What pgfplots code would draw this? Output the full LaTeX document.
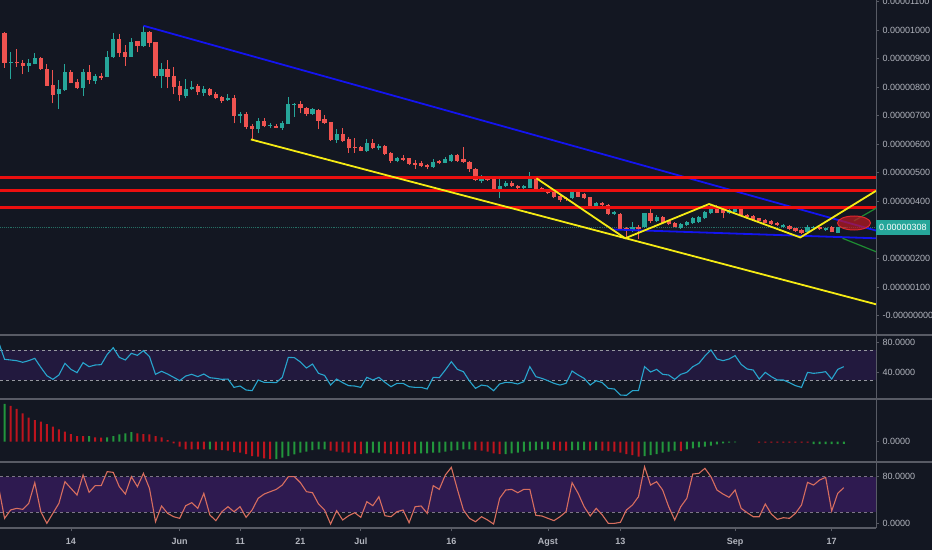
\documentclass[border=0pt]{standalone}
\usepackage{fontspec}
\setmainfont{Liberation Sans}
\usepackage{pgfplots}
\pgfplotsset{compat=1.18}
\usepackage{pgfplotstable}

\definecolor{bg}{RGB}{19,23,34}
\definecolor{cgreen}{RGB}{38,166,154}
\definecolor{cred}{RGB}{239,83,80}
\definecolor{hgreen}{RGB}{34,150,60}
\definecolor{hred}{RGB}{190,20,30}
\definecolor{sep}{RGB}{88,91,101}
\definecolor{txt}{RGB}{178,181,190}
\definecolor{tblue}{RGB}{20,20,240}
\definecolor{tyellow}{RGB}{245,235,20}
\definecolor{tred}{RGB}{235,15,15}
\definecolor{tgreen}{RGB}{30,140,50}
\definecolor{rsiband}{RGB}{34,25,62}
\definecolor{stband}{RGB}{46,26,80}
\definecolor{rsiline}{RGB}{40,165,205}
\definecolor{stline}{RGB}{215,110,95}
\definecolor{pline}{RGB}{38,110,100}
\definecolor{dash1}{RGB}{150,152,160}
\definecolor{dash2}{RGB}{125,118,135}

\pgfplotstableread[row sep=\\]{
d o h l c\\
-10 885.7 924.2 828.5 888\\
-7 875.2 897.3 854.2 885.7\\
-6 882.2 918.3 879.8 900.8\\
-2 776 825 723.5 792.3\\
-1 790 879.8 787.7 853\\
2 795.8 862.3 769 853\\
4 822.7 844.8 811 840.2\\
6 836.7 926.5 834.3 906.7\\
7 904.3 990.7 903.2 967.3\\
10 906.7 970.8 905.5 958\\
12 942.8 1015.2 941.7 994.2\\
15 839 885.7 795.8 863.5\\
19 769 829.7 760.8 793.5\\
20 792.3 822.7 790 801.7\\
22 779.5 804 769 794.7\\
26 753.8 776 751.5 762\\
28 699 714.2 673.3 706\\
31 652.3 690.8 638.3 680.3\\
33 664 675.7 655.8 668.7\\
35 658.2 682.7 650 674.5\\
36 672.2 764.3 671 741\\
37 737.5 743.3 696.7 741\\
40 706 725.8 702.5 722.3\\
44 615 652.3 605.7 636\\
49 576.5 617.3 574.2 605.7\\
51 585.8 599.8 580 595.2\\
54 541.5 556.7 536.8 552\\
60 519.3 547.3 518.2 539.2\\
62 535.7 556.7 533.3 548.5\\
63 540.3 566 538 563.7\\
68 472.7 492.5 465.7 480.8\\
71 441.2 480.8 410.8 454\\
72 454 472.7 451.7 463.3\\
75 445.8 456.3 443.5 452.8\\
76 445.8 501.8 445.8 478.5\\
83 410.8 440 407.3 434.2\\
87 384 399.2 381.7 395.7\\
90 356 367.7 353.7 364.2\\
93 300 329.2 294.2 309.3\\
95 309.3 360.7 308.2 358.3\\
97 331.5 352.5 328 346.7\\
101 305.8 323.3 304.7 321\\
102 317.5 332.7 315.2 329.2\\
103 323.3 346.7 321 340.8\\
104 329.2 349 325.7 346.7\\
105 340.8 367.7 338.5 364.2\\
106 358.3 387.5 356 381.7\\
109 360.7 372.3 356 370\\
110 364.2 375.8 361.8 372.3\\
118 309.3 321 307 317.5\\
122 294.2 317.5 290.7 311.7\\
123 305.8 314 303.5 311.7\\
125 300 308.2 297.7 305.8\\
127 290.7 311.7 288.3 309.3\\
128 306 312 303 308\\
}\greenc

\pgfplotstableread[row sep=\\]{
d o h l c\\
-11 990.7 993 868.2 885.7\\
-9 888 933.5 871.7 883.3\\
-8 885.7 895 844.8 874\\
-5 900.8 906.7 860 862.3\\
-4 863.5 879.8 805.2 805.2\\
-3 807.5 860 743.3 772.5\\
0 853 860 813.3 815.7\\
1 816.8 829.7 793.5 795.8\\
3 851.8 877.5 811 825\\
5 840.2 848.3 825 833.2\\
8 967.3 986 906.7 918.3\\
9 921.8 947.5 874 906.7\\
11 961.5 961.5 924.2 942.8\\
13 994.2 997.7 941.7 955.7\\
14 956.8 958 830.8 839\\
16 863.5 893.8 795.8 836.7\\
17 840.2 869.3 774.8 801.7\\
18 805.2 821.5 752.7 771.3\\
21 804 811 772.5 783\\
23 794.7 795.8 770.2 771.3\\
24 774.8 784.2 759.7 763.2\\
25 765.5 769 745.7 752.7\\
27 762 772.5 673.3 699\\
29 706 714.2 652.3 661.7\\
30 665.2 669.8 617.3 652.3\\
32 681.5 690.8 659.3 664\\
34 664 669.8 655.8 658.2\\
38 741 751.5 708.3 725.8\\
39 725.8 731.7 699 706\\
41 720 722.3 652.3 682.7\\
42 687.3 702.5 671 673.3\\
43 678 679.2 612.7 615\\
45 636 655.8 609.2 612.7\\
46 618.5 624.3 570.7 585.8\\
47 591.7 620.8 570.7 588.2\\
48 591.7 594 575.3 576.5\\
50 605.7 617.3 582.3 585.8\\
52 595.2 597.5 563.7 566\\
53 570.7 573 535.7 541.5\\
55 552 562.5 542.7 546.2\\
56 550.8 552 528.7 531\\
57 533.3 545 514.7 527.5\\
58 533.3 542.7 519.3 524\\
59 527.5 531 512.3 519.3\\
61 540.3 545 529.8 533.3\\
64 562.5 566 539.2 542.7\\
65 547.3 589.3 535.7 538\\
66 539.2 542.7 504.2 512.3\\
67 512.3 515.8 472.7 475\\
69 478.5 480.8 471.5 475\\
70 477.3 478.5 440 441.2\\
73 465.7 472.7 451.7 454\\
74 454 457.5 443.5 445.8\\
77 478.5 483.2 442.3 443.5\\
78 445.8 449.3 434.2 437.7\\
79 440 443.5 426 428.3\\
80 434.2 436.5 410.8 414.3\\
81 419 422.5 399.2 405\\
82 410.8 416.7 402.7 407.3\\
84 434.2 437.7 414.3 416.7\\
85 426 428.3 407.3 410.8\\
86 414.3 416.7 381.7 384\\
88 395.7 399.2 385.2 387.5\\
89 387.5 389.8 352.5 356\\
91 356 358.3 300 302.3\\
92 305.8 311.7 267.3 300\\
94 309.3 317.5 267.3 302.3\\
96 358.3 372.3 323.3 331.5\\
98 346.7 349 323.3 325.7\\
99 331.5 335 317.5 321\\
100 325.7 329.2 309.3 311.7\\
107 381.7 387.5 358.3 360.7\\
108 372.3 375.8 340.8 358.3\\
111 372.3 374.7 350.2 352.5\\
112 352.5 356 344.3 346.7\\
113 350.2 352.5 332.7 335\\
114 340.8 343.2 330.3 332.7\\
115 335 337.3 323.3 325.7\\
116 331.5 333.8 318.7 321\\
117 325.7 328 315.2 317.5\\
119 314 316.3 300 302.3\\
120 305.8 308.2 294.2 296.5\\
121 300 302.3 286 290.7\\
124 309.3 311.7 300 302.3\\
126 311.7 314 291.8 294.2\\
}\redc

\pgfplotstableread[row sep=\\]{
d v\\
-12 81.1\\ -11 58.0\\ -10 57.1\\ -9 56.2\\ -8 54.0\\ -7 56.2\\ -6 59.3\\ -5 47.3\\ -4 36.2\\ -3 31.3\\
-2 37.1\\ -1 52.6\\ 0 44.6\\ 1 40.2\\ 2 53.5\\ 3 48.2\\ 4 50.4\\ 5 50.9\\ 6 64.6\\ 7 73.5\\
8 60.6\\ 9 57.1\\ 10 66.0\\ 11 63.3\\ 12 69.5\\ 13 61.5\\ 14 38.0\\ 15 42.0\\ 16 38.4\\ 17 34.0\\
18 29.5\\ 19 35.7\\ 20 38.0\\ 21 34.9\\ 22 38.4\\ 23 33.5\\ 24 32.6\\ 25 31.3\\ 26 31.7\\ 27 20.6\\
28 22.4\\ 29 17.1\\ 30 16.2\\ 31 30.4\\ 32 27.3\\ 33 27.3\\ 34 26.9\\ 35 34.0\\ 36 60.6\\ 37 60.2\\
38 54.4\\ 39 46.4\\ 40 51.7\\ 41 39.3\\ 42 36.6\\ 43 23.7\\ 44 31.7\\ 45 26.9\\ 46 22.9\\ 47 22.4\\
48 20.6\\ 49 34.0\\ 50 30.4\\ 51 34.0\\ 52 27.3\\ 53 21.5\\ 54 26.0\\ 55 26.0\\ 56 21.5\\ 57 20.6\\
58 20.6\\ 59 18.4\\ 60 34.0\\ 61 33.5\\ 62 43.7\\ 63 54.9\\ 64 44.6\\ 65 41.5\\ 66 29.1\\ 67 19.3\\
68 23.7\\ 69 22.4\\ 70 16.2\\ 71 25.1\\ 72 27.3\\ 73 26.9\\ 74 25.1\\ 75 28.2\\ 76 48.2\\ 77 34.9\\
78 32.6\\ 79 29.5\\ 80 26.0\\ 81 23.7\\ 82 26.0\\ 83 42.4\\ 84 37.1\\ 85 32.6\\ 86 23.7\\ 87 29.5\\
88 26.9\\ 89 19.3\\ 90 18.4\\ 91 10.4\\ 92 10.0\\ 93 16.2\\ 94 16.2\\ 95 48.2\\ 96 41.1\\ 97 44.6\\
98 38.0\\ 99 37.1\\ 100 31.3\\ 101 38.0\\ 102 40.6\\ 103 48.2\\ 104 52.6\\ 105 62.4\\ 106 70.4\\ 107 58.4\\
108 56.2\\ 109 58.4\\ 110 62.9\\ 111 51.3\\ 112 45.1\\ 113 43.7\\ 114 31.7\\ 115 40.6\\ 116 34.9\\ 117 30.4\\
118 30.4\\ 119 26.9\\ 120 22.9\\ 121 20.6\\ 122 40.6\\ 123 39.3\\ 124 40.2\\ 125 41.5\\ 126 31.7\\ 127 44.6\\
128 48.2\\
}\rsi

\pgfplotstableread[row sep=\\]{
d v\\
-12 63.1\\ -11 9.3\\ -10 23.5\\ -9 26.3\\ -8 24.6\\ -7 34.8\\ -6 69.9\\ -5 20.6\\ -4 0.8\\ -3 17.8\\
-2 34.8\\ -1 71.6\\ 0 60.2\\ 1 48.9\\ 2 82.9\\ 3 53.5\\ 4 64.8\\ 5 64.8\\ 6 88.6\\ 7 87.4\\
8 63.1\\ 9 50.6\\ 10 80.1\\ 11 63.1\\ 12 85.7\\ 13 60.2\\ 14 3.6\\ 15 30.3\\ 16 17.8\\ 17 12.1\\
18 9.3\\ 19 30.8\\ 20 35.9\\ 21 26.3\\ 22 51.8\\ 23 15.0\\ 24 5.4\\ 25 20.6\\ 26 29.1\\ 27 20.6\\
28 29.1\\ 29 11.0\\ 30 23.5\\ 31 43.3\\ 32 50.6\\ 33 54.6\\ 34 58.5\\ 35 65.9\\ 36 80.1\\ 37 80.1\\
38 69.9\\ 39 54.6\\ 40 52.9\\ 41 33.7\\ 42 23.5\\ 43 -0.3\\ 44 22.3\\ 45 6.5\\ 46 13.8\\ 47 18.9\\
48 11.0\\ 49 37.6\\ 50 30.8\\ 51 46.1\\ 52 13.8\\ 53 12.1\\ 54 20.6\\ 55 23.5\\ 56 1.9\\ 57 29.1\\
58 30.3\\ 59 17.8\\ 60 64.8\\ 61 58.5\\ 62 82.9\\ 63 95.9\\ 64 58.5\\ 65 23.5\\ 66 9.3\\ 67 3.6\\
68 12.1\\ 69 6.5\\ 70 -0.3\\ 71 43.3\\ 72 57.4\\ 73 58.5\\ 74 52.9\\ 75 58.5\\ 76 58.5\\ 77 14.4\\
78 13.3\\ 79 9.3\\ 80 5.4\\ 81 12.1\\ 82 20.6\\ 83 69.9\\ 84 51.8\\ 85 29.1\\ 86 13.3\\ 87 26.3\\
88 15.0\\ 89 0.8\\ 90 0.8\\ 91 2.5\\ 92 23.5\\ 93 32.0\\ 94 46.1\\ 95 97.0\\ 96 65.9\\ 97 71.6\\
98 57.4\\ 99 29.1\\ 100 6.5\\ 101 29.1\\ 102 43.3\\ 103 84.6\\ 104 85.7\\ 105 94.2\\ 106 80.1\\ 107 57.4\\
108 50.6\\ 109 45.0\\ 110 57.4\\ 111 26.3\\ 112 18.9\\ 113 12.1\\ 114 12.1\\ 115 33.7\\ 116 16.7\\ 117 7.6\\
118 10.4\\ 119 9.3\\ 120 17.8\\ 121 32.0\\ 122 70.4\\ 123 65.9\\ 124 74.4\\ 125 78.9\\ 126 21.8\\ 127 51.8\\
128 61.4\\
}\stoch

\pgfplotstableread[row sep=\\]{
d h\\
-11 37.7\\ 3 5.7\\ 6 4.3\\ 7 5.7\\ 8 7.3\\ 9 8.3\\ 10 9.7\\ 23 -7.7\\
34 -17.3\\ 35 -16\\ 36 -14.3\\ 37 -12.7\\ 38 -11\\ 39 -10\\ 40 -8.3\\ 41 -7.7\\ 42 -7.7\\
49 -11.7\\ 50 -11\\ 51 -11\\
58 -11.7\\ 59 -11.7\\ 60 -11\\ 61 -11\\ 62 -10\\ 63 -9\\ 64 -8.3\\ 65 -7.7\\ 66 -7.7\\
72 -12.3\\ 73 -11.7\\ 74 -11\\ 75 -10\\ 76 -9\\ 77 -8.3\\ 78 -7.7\\ 79 -7.7\\
83 -8.3\\ 84 -8.3\\ 85 -8.3\\ 87 -8.3\\
95 -14.3\\ 96 -13.3\\ 97 -12.3\\ 98 -11\\ 99 -10\\ 100 -9\\
102 -7.7\\ 103 -6.7\\ 104 -5.7\\ 105 -5\\ 106 -4\\ 107 -2.7\\ 108 -1.7\\ 109 -1\\ 110 -0.7\\
123 -2.5\\ 124 -2.5\\ 125 -2.5\\ 126 -2.5\\ 127 -2.5\\ 128 -2.2\\
}\histg

\pgfplotstableread[row sep=\\]{
d h\\
-10 35.7\\ -9 32.7\\ -8 28.3\\ -7 24\\ -6 21.7\\ -5 20\\ -4 17.7\\ -3 15\\ -2 12.3\\ -1 10\\
0 7.7\\ 1 5.7\\ 2 5.7\\ 4 4.3\\ 5 4\\ 11 8.3\\ 12 7.7\\ 13 7.3\\ 14 5.7\\ 15 4.3\\ 16 1.7\\
17 -1.7\\ 18 -5\\ 19 -7.7\\ 20 -7.7\\ 21 -7.7\\ 22 -7.7\\ 24 -8.3\\ 25 -8.3\\ 26 -9\\ 27 -10.3\\
28 -11\\ 29 -12.3\\ 30 -14.3\\ 31 -15\\ 32 -16.7\\ 33 -17.3\\
43 -9\\ 44 -10\\ 45 -10.7\\ 46 -11\\ 47 -11.7\\ 48 -12.3\\
52 -11.7\\ 53 -12.3\\ 54 -12.3\\ 55 -12.3\\ 56 -12.3\\ 57 -12\\
67 -8.3\\ 68 -9\\ 69 -10\\ 70 -11.7\\ 71 -12.3\\ 80 -8.3\\ 81 -9\\ 82 -9\\ 86 -9\\
88 -9\\ 89 -9.3\\ 90 -10\\ 91 -11\\ 92 -12.3\\ 93 -13.3\\ 94 -15\\ 101 -9.3\\
114 -1\\ 115 -1\\ 116 -1\\ 117 -1\\ 118 -1\\ 119 -1\\ 120 -1\\ 121 -1\\ 122 -1\\
}\histr

\pgfplotsset{
  pane/.style={scale only axis, width=876pt, xmin=-11.76, xmax=133.34,
    anchor=south west, axis y line*=right,
    y axis line style={draw=sep, line width=1pt},
    ytick style={draw=sep, line width=0.8pt},
    tick align=outside, major tick length=3pt,
    yticklabel style={font=\fontsize{9}{10}\selectfont, text=txt, anchor=west},
    clip mode=individual},
  wick/.style={#1, line width=1pt, forget plot, mark=none,
    quiver={u=0, v=\thisrow{h}-\thisrow{l}}},
  body/.style={#1, line width=4.2pt, forget plot, mark=none,
    quiver={u=0, v={max(abs(\thisrow{c}-\thisrow{o}),3.6)}}},
}

\begin{document}
\begin{tikzpicture}
\useasboundingbox (0pt,0pt) rectangle (932pt,550pt);
\clip (0pt,0pt) rectangle (932pt,550pt);
\fill[bg] (0pt,0pt) rectangle (932pt,550pt);

% ---------------- main price pane ----------------
\begin{axis}[pane, axis x line=none, at={(0pt,215pt)}, height=335pt, ymin=-67.5, ymax=1105,
  ytick={0,100,200,400,500,600,700,800,900,1000,1100},
  yticklabels={-0.00000000,0.00000100,0.00000200,0.00000400,0.00000500,0.00000600,0.00000700,0.00000800,0.00000900,0.00001000,0.00001100}]
\addplot[pline, densely dotted, line width=0.9pt] coordinates {(-11.76,308) (133.34,308)};
\addplot[wick=cgreen] table[x=d, y=l] {\greenc};
\addplot[body=cgreen] table[x=d, y expr={min(\thisrow{o},\thisrow{c})}] {\greenc};
\addplot[wick=cred] table[x=d, y=l] {\redc};
\addplot[body=cred] table[x=d, y expr={min(\thisrow{o},\thisrow{c})}] {\redc};
% drawings
\addplot[tblue, line width=1.8pt] coordinates {(12,1015) (133.34,298)};
\addplot[tblue, line width=1.8pt] coordinates {(89.5,302) (133.34,271)};
\addplot[tred, line width=2.6pt] coordinates {(-11.76,483.7) (133.34,483.7)};
\addplot[tred, line width=2.6pt] coordinates {(-11.76,437.5) (133.34,437.5)};
\addplot[tred, line width=2.6pt] coordinates {(-11.76,378.7) (133.34,378.7)};
\addplot[tyellow, line width=1.8pt] coordinates {(29.8,617) (133.34,40)};
\addplot[tyellow, line width=1.8pt] coordinates {(77.1,481) (91.8,271) (105.7,391) (120.8,274) (133.34,437)};
\addplot[tgreen, line width=1.2pt] coordinates {(129.7,332) (133.34,376)};
\addplot[tgreen, line width=1.2pt] coordinates {(127.8,271) (133.34,224)};
\draw[draw={rgb,255:red,225;green,40;blue,45}, line width=1pt, fill={rgb,255:red,190;green,25;blue,35}, fill opacity=0.7]
  (axis cs:129.7,324.5) ellipse [x radius=16.5pt, y radius=7pt];
\node[fill=cgreen, text=white, font=\fontsize{9}{10}\selectfont, inner xsep=3pt, inner ysep=0pt,
  minimum height=15pt, anchor=west] at (axis cs:133.34,308) {0.00000308};
\end{axis}

% ---------------- RSI pane ----------------
\begin{axis}[pane, axis x line=none, at={(0pt,151pt)}, height=64pt, ymin=5.1, ymax=90.4,
  ytick={40,80}, yticklabels={40.0000,80.0000}]
\addplot[draw=none, fill=rsiband] coordinates {(-11.76,30) (133.34,30) (133.34,70) (-11.76,70)} -- cycle;
\addplot[dash1, line width=0.8pt, dash pattern=on 3pt off 3pt] coordinates {(-11.76,70) (133.34,70)};
\addplot[dash1, line width=0.8pt, dash pattern=on 3pt off 3pt] coordinates {(-11.76,30) (133.34,30)};
\addplot[rsiline, line width=1.1pt] table[x=d, y=v] {\rsi};
\end{axis}

% ---------------- histogram pane ----------------
\begin{axis}[pane, axis x line=none, at={(0pt,88pt)}, height=63pt, ymin=-20.3, ymax=42.7,
  ytick={0}, yticklabels={0.0000}]
\addplot[ybar, bar width=2pt, bar shift=0pt, draw=none, fill=hgreen] table[x=d, y=h] {\histg};
\addplot[ybar, bar width=2pt, bar shift=0pt, draw=none, fill=hred] table[x=d, y=h] {\histr};
\end{axis}

% ---------------- stochastic pane ----------------
\begin{axis}[pane, at={(0pt,22pt)}, height=66pt, ymin=-7.1, ymax=105,
  axis x line*=bottom, x axis line style={draw=sep, line width=1.5pt},
  xtick style={draw=sep, line width=0.8pt},
  xtick={0,18,28,38,48,63,79,91,110,126},
  xticklabels={14,Jun,11,21,Jul,16,Agst,13,Sep,17},
  xticklabel style={font=\bfseries\fontsize{9}{10}\selectfont, text=txt, yshift=-3.5pt},
  ytick={0,80}, yticklabels={0.0000,80.0000}]
\addplot[draw=none, fill=stband] coordinates {(-11.76,20) (133.34,20) (133.34,80) (-11.76,80)} -- cycle;
\addplot[dash2, line width=0.8pt, dash pattern=on 3pt off 3pt] coordinates {(-11.76,80) (133.34,80)};
\addplot[dash2, line width=0.8pt, dash pattern=on 3pt off 3pt] coordinates {(-11.76,20) (133.34,20)};
\addplot[stline, line width=1.1pt] table[x=d, y=v] {\stoch};
\end{axis}

% pane separators
\draw[sep, line width=1.4pt] (0pt,215pt) -- (932pt,215pt);
\draw[sep, line width=1.2pt] (0pt,151pt) -- (932pt,151pt);
\draw[sep, line width=1.2pt] (0pt,88pt) -- (932pt,88pt);
\end{tikzpicture}
\end{document}
